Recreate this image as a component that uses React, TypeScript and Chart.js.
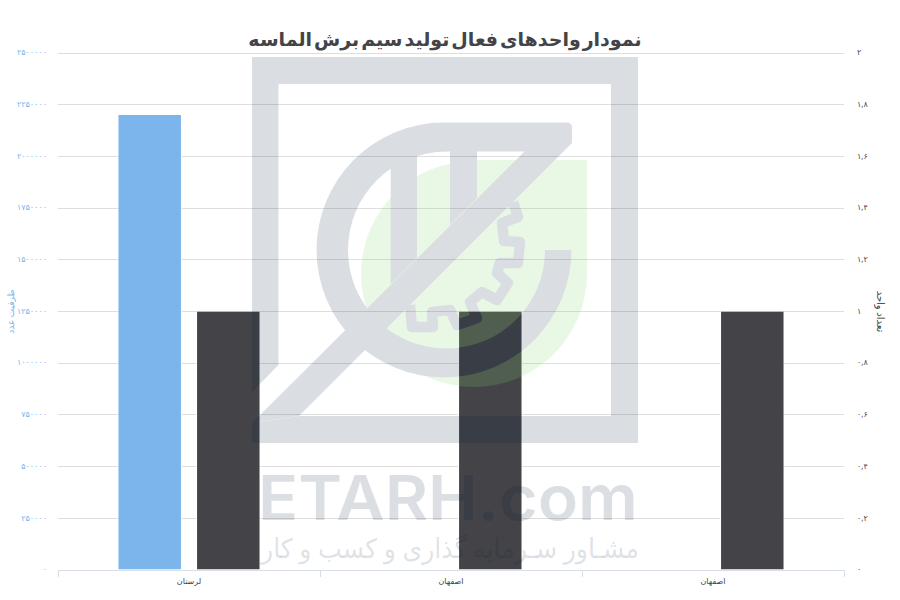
import React, { useEffect, useRef } from "react";
import { Chart, registerables } from "chart.js";

Chart.register(...registerables);

const categories = ["لرستان", "اصفهان", "اصفهان"];
const capacityValues = [2200000, null, null];
const unitCounts = [1, 1, 1];
const chartTitle = "نمودار واحدهای فعال تولید سیم برش الماسه";
const leftAxisTitle = "ظرفیت عدد";
const rightAxisTitle = "تعداد واحد";
const watermarkLatin = "ETARH.com";
const watermarkPersian = "مشـاور سـرمایه گذاری و کسب و کار";

const FONT = "'Noto Sans', 'DejaVu Sans', sans-serif";
const DIGITS = "۰۱۲۳۴۵۶۷۸۹";
const toPersian = (v: number | string) =>
  String(v).replace(/\d/g, (d) => DIGITS[Number(d)]).replace(".", ",");

function poly(ctx: CanvasRenderingContext2D, pts: number[][]) {
  ctx.beginPath();
  pts.forEach(([x, y], i) => (i ? ctx.lineTo(x, y) : ctx.moveTo(x, y)));
  ctx.closePath();
  ctx.fill();
}

function drawLogoShape(ctx: CanvasRenderingContext2D) {
  ctx.fillStyle = ctx.strokeStyle = "rgb(0,30,60)";
  poly(ctx, [[252, 57], [638, 57], [638, 84], [252, 84]]);
  poly(ctx, [[611, 57], [638, 57], [638, 443], [611, 443]]);
  poly(ctx, [[299, 416], [638, 416], [638, 443], [252, 443], [252, 423]]);
  poly(ctx, [[252, 57], [278.5, 57], [278.5, 365], [252, 392]]);
  poly(ctx, [[444, 122.5], [569, 122.5], [572, 125.5], [572, 143], [299, 416], [252, 423], [524.5, 151.5], [444, 151.5]]);
  poly(ctx, [[390.7, 160], [417, 145], [417, 258], [390.7, 284.3]]);
  poly(ctx, [[450, 140], [477, 140], [477, 198], [450, 225]]);
  // ring: outer and inner circles are slightly off-centre from each other
  ctx.beginPath();
  ctx.arc(444, 250, 127.5, 0, Math.PI * 1.5);
  ctx.lineTo(446.5, 151.5);
  ctx.arc(446.5, 250, 98.5, Math.PI * 1.5, 0, true);
  ctx.closePath();
  ctx.fill();
  ctx.lineWidth = 10.5;
  ctx.lineJoin = "round";
  ctx.beginPath();
  const gear = [[513, 202], [518, 217], [502, 223], [504, 241], [520, 242], [518, 263], [500, 263], [497, 273], [508, 283], [497, 300], [482, 292], [470, 302], [477, 318], [457, 325], [450, 310], [432, 312], [433, 327], [412, 327], [410, 305]];
  gear.forEach(([x, y], i) => (i ? ctx.lineTo(x, y) : ctx.moveTo(x, y)));
  ctx.stroke();
}

const backgroundPlugin = {
  id: "paper",
  beforeDraw(chart: Chart) {
    const { ctx, width, height } = chart;
    ctx.save();
    ctx.fillStyle = "#ffffff";
    ctx.fillRect(0, 0, width, height);
    ctx.restore();
    // tighter word gaps for the chart title only
    const block = (chart as any).titleBlock;
    if (block && !block.__tight) {
      const original = block.draw.bind(block);
      block.draw = (...args: any[]) => {
        (ctx as any).wordSpacing = "-3px";
        original(...args);
        (ctx as any).wordSpacing = "0px";
      };
      block.__tight = true;
    }
  },
};

const watermarkPlugin = {
  id: "watermark",
  afterDraw(chart: Chart) {
    const { ctx, width, height } = chart;
    const layer = () => {
      const c = document.createElement("canvas");
      c.width = width;
      c.height = height;
      return c;
    };
    const gray = layer();
    drawLogoShape(gray.getContext("2d")!);
    const green = layer();
    const g = green.getContext("2d")!;
    g.fillStyle = "rgb(139,215,116)";
    g.beginPath();
    g.arc(474, 274, 113, 0, Math.PI * 2);
    g.fill();
    g.fillRect(474, 160, 113, 114);
    g.globalCompositeOperation = "destination-out";
    g.drawImage(gray, 0, 0);
    ctx.save();
    ctx.globalAlpha = 0.18;
    ctx.drawImage(green, 0, 0);
    ctx.globalAlpha = 0.14;
    ctx.drawImage(gray, 0, 0);
    ctx.fillStyle = "rgb(0,30,60)";
    ctx.textAlign = "left";
    ctx.textBaseline = "alphabetic";
    ctx.font = `600 62px Inter, ${FONT}`;
    const w = ctx.measureText(watermarkLatin).width;
    ctx.save();
    ctx.translate(258, 520);
    ctx.scale(380 / w, 1);
    ctx.fillText(watermarkLatin, 0, 0);
    ctx.restore();
    ctx.textAlign = "right";
    ctx.font = `400 27px ${FONT}`;
    ctx.fillText(watermarkPersian, 639, 558, 378);
    ctx.restore();
  },
};

export default function App() {
  const ref = useRef<HTMLCanvasElement>(null);
  useEffect(() => {
    ref.current!.getContext("2d", { alpha: false });
    const barBorder = { left: 1, right: 1, top: 0, bottom: 0 };
    const chart = new Chart(ref.current!, {
      type: "bar",
      plugins: [backgroundPlugin, watermarkPlugin],
      data: {
        labels: categories,
        datasets: [
          { label: "ظرفیت", data: capacityValues, yAxisID: "y", backgroundColor: "#7cb5ec", borderColor: "#ffffff", borderWidth: barBorder, categoryPercentage: 0.6, barPercentage: 0.82 },
          { label: "تعداد", data: unitCounts, yAxisID: "y1", backgroundColor: "#434348", borderColor: "#ffffff", borderWidth: barBorder, categoryPercentage: 0.6, barPercentage: 0.82 },
        ],
      },
      options: {
        responsive: false,
        animation: false,
        devicePixelRatio: 1,
        layout: { autoPadding: false, padding: { right: 10 } },
        plugins: {
          legend: { display: false },
          tooltip: { enabled: false },
          title: {
            display: true,
            text: chartTitle,
            color: "#434348",
            font: { family: FONT, size: 19, weight: "bold", lineHeight: 1.2 },
            padding: { top: 29.6, bottom: 0.6 },
          },
        },
        scales: {
          x: {
            afterFit: (s: any) => { s.height = 30; },
            border: { color: "#d8dee8" },
            grid: { drawOnChartArea: false, color: "#d8dee8", tickLength: 7 },
            ticks: { color: "#434348", font: { family: FONT, size: 8 }, padding: 0, maxRotation: 0, minRotation: 0, autoSkip: false },
          },
          y: {
            position: "left",
            min: 0,
            max: 2500000,
            afterFit: (s: any) => { s.width = 58; },
            border: { display: false },
            grid: { color: "#dedede", drawTicks: false },
            title: { display: true, text: leftAxisTitle, color: "#7cb5ec", font: { family: FONT, size: 9 }, padding: { top: 6, bottom: 0 } },
            ticks: { stepSize: 250000, color: "#7cb5ec", font: { family: FONT, size: 8 }, padding: 11, callback: (v: any) => toPersian(v) },
          },
          y1: {
            position: "right",
            min: 0,
            max: 2,
            afterFit: (s: any) => { s.width = 46; },
            border: { display: false },
            grid: { drawOnChartArea: false, drawTicks: false },
            title: { display: true, text: rightAxisTitle, color: "#434348", font: { family: FONT, size: 10 }, padding: { top: 4, bottom: 0 } },
            ticks: { stepSize: 0.2, color: "#434348", font: { family: FONT, size: 8 }, padding: 13, callback: (v: any) => toPersian(parseFloat(Number(v).toFixed(1))) },
          },
        },
      },
    } as any);
    return () => chart.destroy();
  }, []);
  return <canvas ref={ref} width={900} height={600} style={{ position: "fixed", left: 0, top: 0, display: "block" }} />;
}
